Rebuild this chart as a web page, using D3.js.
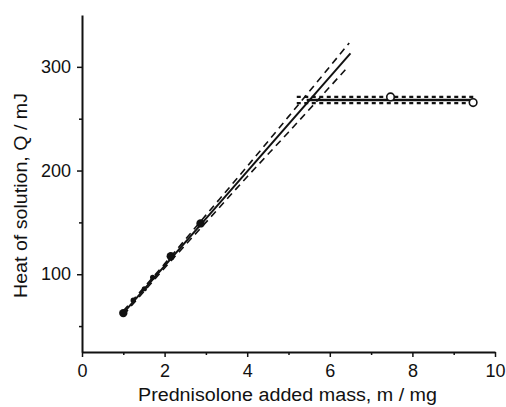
<!DOCTYPE html>
<html><head><meta charset="utf-8">
<script src="https://cdn.jsdelivr.net/npm/d3@7"></script>
<style>body{margin:0;background:#fff}svg{display:block}text{font-family:"Liberation Sans",Arial,sans-serif;fill:#111}</style>
</head><body>
<svg id="c" width="506" height="407"></svg>
<script>
// data
const filledX = [1.0, 1.24, 1.51, 1.71, 2.15, 2.87];
const filledY = [62.5, 75, 86, 97, 117.4, 149];
const filledR = [4.2, 2.6, 2.6, 2.6, 4.2, 4.2];
const openX = [7.47, 9.47];
const openY = [271, 265.5];
const fitX = [1, 6.5];
const fitY = [62.5, 313];
const upperX = [1, 2, 3, 4, 5, 6.47];
const upperY = [64.5, 110, 157, 204, 252, 323];
const lowerX = [1, 2, 3, 4, 5, 6.41];
const lowerY = [60.5, 106, 150, 194, 237, 298.7];
const plateauX = [5.44, 9.47];
const plateauY = [268, 268];
const plateauUpY = [271, 271];
const plateauLoY = [265, 265];
const plateauBandX = [5.2, 9.5];
const xTicks = [0, 2, 4, 6, 8, 10];
const xMinor = [1, 3, 5, 7, 9];
const yTicks = [100, 200, 300];
const yMinor = [50, 150, 250];

const svg = d3.select("#c");
const m = {l: 82, r: 11, t: 15, b: 55};
const W = 506, H = 407;
const x = d3.scaleLinear().domain([0, 10]).range([m.l, W - m.r]);
const y = d3.scaleLinear().domain([25, 350]).range([H - m.b, m.t]);

function styleAxis(g) {
  g.selectAll("path.domain").attr("stroke", "#111").attr("stroke-width", 2);
  g.selectAll(".tick line").attr("stroke", "#111").attr("stroke-width", 1.5);
  g.selectAll("text").style("font-size", "18px").style("font-family", '"Liberation Sans",Arial,sans-serif').attr("fill", "#111");
}
const gx = svg.append("g").attr("transform", `translate(0,${H - m.b})`)
  .call(d3.axisBottom(x).tickValues(xTicks).tickFormat(d3.format("d")).tickSize(5).tickSizeOuter(0).tickPadding(7));
styleAxis(gx);
const gxm = svg.append("g").attr("transform", `translate(0,${H - m.b})`)
  .call(d3.axisBottom(x).tickValues(xMinor).tickFormat("").tickSize(3).tickSizeOuter(0));
gxm.select("path.domain").remove(); styleAxis(gxm);

const gy = svg.append("g").attr("transform", `translate(${m.l},0)`)
  .call(d3.axisLeft(y).tickValues(yTicks).tickFormat(d3.format("d")).tickSize(5).tickSizeOuter(0).tickPadding(6));
styleAxis(gy);
const gym = svg.append("g").attr("transform", `translate(${m.l},0)`)
  .call(d3.axisLeft(y).tickValues(yMinor).tickFormat("").tickSize(3).tickSizeOuter(0));
gym.select("path.domain").remove(); styleAxis(gym);

svg.append("text").attr("x", 287.5).attr("y", 401).attr("text-anchor", "middle")
  .style("font-size", "18px").attr("textLength", 299).attr("lengthAdjust", "spacingAndGlyphs")
  .text("Prednisolone added mass, m / mg");
svg.append("text").attr("transform", "translate(27,195.5) rotate(-90)").attr("text-anchor", "middle")
  .style("font-size", "18px").attr("textLength", 205).attr("lengthAdjust", "spacingAndGlyphs")
  .text("Heat of solution, Q / mJ");

const line = d3.line().x(d => x(d[0])).y(d => y(d[1]));
const curve = d3.line().x(d => x(d[0])).y(d => y(d[1])).curve(d3.curveMonotoneX);
const zip = (a, b) => a.map((v, i) => [v, b[i]]);

svg.append("path").datum(zip(upperX, upperY)).attr("d", curve)
  .attr("fill", "none").attr("stroke", "#111").attr("stroke-width", 1.6).attr("stroke-dasharray", "7,5");
svg.append("path").datum(zip(lowerX, lowerY)).attr("d", curve)
  .attr("fill", "none").attr("stroke", "#111").attr("stroke-width", 1.6).attr("stroke-dasharray", "7,5");
svg.append("path").datum(zip(fitX, fitY)).attr("d", line)
  .attr("fill", "none").attr("stroke", "#111").attr("stroke-width", 2);

svg.append("path").datum(zip(plateauBandX, plateauUpY)).attr("d", line)
  .attr("fill", "none").attr("stroke", "#111").attr("stroke-width", 2.2).attr("stroke-dasharray", "4,3.5");
svg.append("path").datum(zip(plateauBandX, plateauLoY)).attr("d", line)
  .attr("fill", "none").attr("stroke", "#111").attr("stroke-width", 2.2).attr("stroke-dasharray", "4,3.5");
svg.append("path").datum(zip(plateauX, plateauY)).attr("d", line)
  .attr("fill", "none").attr("stroke", "#111").attr("stroke-width", 2.4);

svg.append("g").selectAll("circle").data(filledX).join("circle")
  .attr("cx", d => x(d)).attr("cy", (d, i) => y(filledY[i])).attr("r", (d, i) => filledR[i]).attr("fill", "#111");
svg.append("g").selectAll("circle").data(openX).join("circle")
  .attr("cx", d => x(d)).attr("cy", (d, i) => y(openY[i])).attr("r", 3.8)
  .attr("fill", "#fff").attr("stroke", "#111").attr("stroke-width", 1.6);
</script>
</body></html>
